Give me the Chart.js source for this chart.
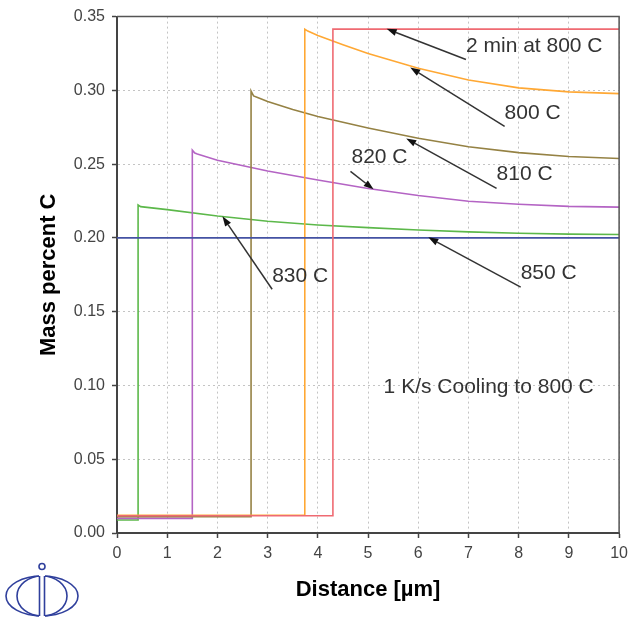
<!DOCTYPE html>
<html>
<head>
<meta charset="utf-8">
<script src="https://cdn.jsdelivr.net/npm/chart.js@4/dist/chart.umd.min.js"></script>
<style>
  html, body { margin: 0; padding: 0; background: #fff; }
  #wrap { width: 634px; height: 620px; }
</style>
</head>
<body>
<div id="wrap"><canvas id="c" width="634" height="620"></canvas></div>
<script>
// ---- data ----
const xTickValues = [0, 1, 2, 3, 4, 5, 6, 7, 8, 9, 10];
const yTickValues = [0.00, 0.05, 0.10, 0.15, 0.20, 0.25, 0.30, 0.35];

// 2 min at 800 C
const dist2min = [0, 4.3, 4.3, 10];
const carb2min = [0.0117, 0.0117, 0.3415, 0.3415];
// 850 C
const dist850 = [0, 10];
const carb850 = [0.200, 0.200];
// 800 C
const dist800 = [0, 3.74, 3.74, 3.8, 4.0, 4.5, 5, 6, 7, 8, 9, 10];
const carb800 = [0.0120, 0.0120, 0.3415, 0.3402, 0.3372, 0.3310, 0.3250, 0.3150, 0.3070, 0.3017, 0.2990, 0.2978];
// 810 C
const dist810 = [0, 2.67, 2.67, 2.72, 2.8, 3, 3.5, 4, 5, 6, 7, 8, 9, 10];
const carb810 = [0.0110, 0.0110, 0.2995, 0.2962, 0.2952, 0.2925, 0.2870, 0.2823, 0.2745, 0.2675, 0.2618, 0.2578, 0.2552, 0.2538];
// 820 C
const dist820 = [0, 1.5, 1.5, 1.55, 1.6, 2, 3, 4, 5, 6, 7, 8, 9, 10];
const carb820 = [0.0099, 0.0099, 0.2595, 0.2575, 0.2568, 0.2527, 0.2453, 0.2392, 0.2335, 0.2287, 0.2248, 0.2228, 0.2214, 0.2209];
// 830 C
const dist830 = [0, 0.42, 0.42, 0.47, 1, 2, 3, 4, 5, 6, 7, 8, 9, 10];
const carb830 = [0.0088, 0.0088, 0.2223, 0.2212, 0.2192, 0.2148, 0.2113, 0.2088, 0.2070, 0.2054, 0.2041, 0.2032, 0.2026, 0.2023];

// annotation texts, anchors (data coords) and arrow tips (data coords)
const noteTexts = ['2 min at 800 C', '800 C', '810 C', '820 C', '830 C', '850 C'];
const noteX     = [6.95, 7.72, 7.56, 4.67, 3.09, 8.04];
const noteY     = [0.3297, 0.2844, 0.2431, 0.2546, 0.1740, 0.1760];
const tailX     = [6.95, 7.72, 7.56, 4.65, 3.09, 8.04];
const tailY     = [0.3209, 0.2756, 0.2336, 0.2451, 0.1652, 0.1666];
const tipX      = [5.37, 5.84, 5.76, 5.11, 2.10, 6.20];
const tipY      = [0.3417, 0.3155, 0.2674, 0.2329, 0.2146, 0.2004];
const subtitleText = '1 K/s Cooling to 800 C';
const subtitleX = 5.31, subtitleY = 0.0988;

// ---- build ----
const pts = (xs, ys) => xs.map((x, i) => ({ x: x, y: ys[i] }));
const FONT = '"Liberation Sans", Arial, Helvetica, sans-serif';

function series(label, xs, ys, color, w) {
  return { label, data: pts(xs, ys), borderColor: color, backgroundColor: color,
           borderWidth: w || 1.6, pointRadius: 0, showLine: true, tension: 0, fill: false };
}

const datasets = [
  series('2 min at 800 C', dist2min, carb2min, '#ef6a72'),
  series('850 C', dist850, carb850, '#4452a3', 1.8),
  series('800 C', dist800, carb800, '#ffa834'),
  series('810 C', dist810, carb810, '#958244'),
  series('820 C', dist820, carb820, '#b464c4'),
  series('830 C', dist830, carb830, '#5cb84a'),
];

const boxPlugin = {
  id: 'box',
  afterDatasetsDraw(chart) {
    const { ctx, chartArea: a } = chart;
    ctx.save();
    ctx.strokeStyle = '#555';
    ctx.lineWidth = 1.5;
    ctx.beginPath();
    ctx.moveTo(a.left, a.top); ctx.lineTo(a.right, a.top); ctx.lineTo(a.right, a.bottom);
    ctx.stroke();
    ctx.restore();
  }
};

const notePlugin = {
  id: 'notes',
  afterDatasetsDraw(chart) {
    const { ctx } = chart;
    const xs = chart.scales.x, ys = chart.scales.y;
    ctx.save();
    ctx.font = '21px ' + FONT;
    ctx.fillStyle = '#333';
    ctx.textBaseline = 'middle';
    ctx.textAlign = 'left';
    for (let i = 0; i < noteTexts.length; i++) {
      ctx.fillText(noteTexts[i], xs.getPixelForValue(noteX[i]), ys.getPixelForValue(noteY[i]));
      const x1 = xs.getPixelForValue(tailX[i]), y1 = ys.getPixelForValue(tailY[i]);
      const x2 = xs.getPixelForValue(tipX[i]), y2 = ys.getPixelForValue(tipY[i]);
      const ang = Math.atan2(y2 - y1, x2 - x1);
      const L = 10, W = 3.5;
      const bx = x2 - L * Math.cos(ang), by = y2 - L * Math.sin(ang);
      ctx.strokeStyle = '#333';
      ctx.lineWidth = 1.5;
      ctx.beginPath(); ctx.moveTo(x1, y1); ctx.lineTo(bx, by); ctx.stroke();
      ctx.fillStyle = '#111';
      ctx.beginPath();
      ctx.moveTo(x2, y2);
      ctx.lineTo(bx + W * Math.sin(ang), by - W * Math.cos(ang));
      ctx.lineTo(bx - W * Math.sin(ang), by + W * Math.cos(ang));
      ctx.closePath(); ctx.fill();
      ctx.fillStyle = '#333';
    }
    ctx.fillText(subtitleText, xs.getPixelForValue(subtitleX), ys.getPixelForValue(subtitleY));
    ctx.restore();
  }
};

const logoPlugin = {
  id: 'logo',
  afterDraw(chart) {
    const ctx = chart.ctx;
    const cx = 42, cy = 596;
    ctx.save();
    ctx.strokeStyle = '#2f3f9c';
    ctx.lineWidth = 1.6;
    ctx.beginPath(); ctx.ellipse(cx, cy, 36, 20, 0, 0, Math.PI * 2); ctx.stroke();
    ctx.beginPath(); ctx.ellipse(cx, cy, 25, 20, 0, 0, Math.PI * 2); ctx.stroke();
    ctx.fillStyle = '#fff';
    ctx.fillRect(cx - 3, cy - 21, 6, 42);
    ctx.beginPath();
    ctx.moveTo(cx - 2.5, cy - 20); ctx.lineTo(cx - 2.5, cy + 20);
    ctx.moveTo(cx + 2.5, cy - 20); ctx.lineTo(cx + 2.5, cy + 20);
    ctx.stroke();
    ctx.beginPath(); ctx.arc(cx, cy - 29.5, 3, 0, Math.PI * 2); ctx.stroke();
    ctx.restore();
  }
};

const gridCommon = {
  color: '#c4c4c4', lineWidth: 1, drawTicks: true, tickLength: 5,
  tickColor: '#444', tickWidth: 1.5, tickBorderDash: []
};

new Chart(document.getElementById('c'), {
  type: 'scatter',
  data: { datasets },
  options: {
    responsive: false,
    animation: false,
    layout: { padding: { left: 0, right: 12, top: 16, bottom: 0 } },
    plugins: { legend: { display: false }, tooltip: { enabled: false } },
    scales: {
      x: {
        type: 'linear', min: 0, max: 10,
        afterBuildTicks: s => { s.ticks = xTickValues.map(v => ({ value: v })); },
        afterFit: s => { s.height = 87; },
        grid: gridCommon,
        border: { display: true, color: '#444', width: 2, dash: [2, 3] },
        ticks: { color: '#444', font: { family: FONT, size: 16 }, padding: 6, maxRotation: 0,
                 callback: v => String(v) },
        title: { display: true, text: 'Distance [µm]', color: '#000',
                 font: { family: FONT, size: 22, weight: 'bold' }, padding: { top: 0, bottom: 17 } }
      },
      y: {
        type: 'linear', min: 0, max: 0.35,
        afterBuildTicks: s => { s.ticks = yTickValues.map(v => ({ value: v })); },
        afterFit: s => { s.width = 117; },
        grid: gridCommon,
        border: { display: true, color: '#444', width: 2, dash: [2, 3] },
        ticks: { color: '#444', font: { family: FONT, size: 16 }, padding: 7,
                 callback: v => Number(v).toFixed(2) },
        title: { display: true, text: 'Mass percent C', color: '#000',
                 font: { family: FONT, size: 22, weight: 'bold' }, padding: { top: 36, bottom: 0 } }
      }
    }
  },
  plugins: [boxPlugin, notePlugin, logoPlugin]
});
</script>
</body>
</html>
